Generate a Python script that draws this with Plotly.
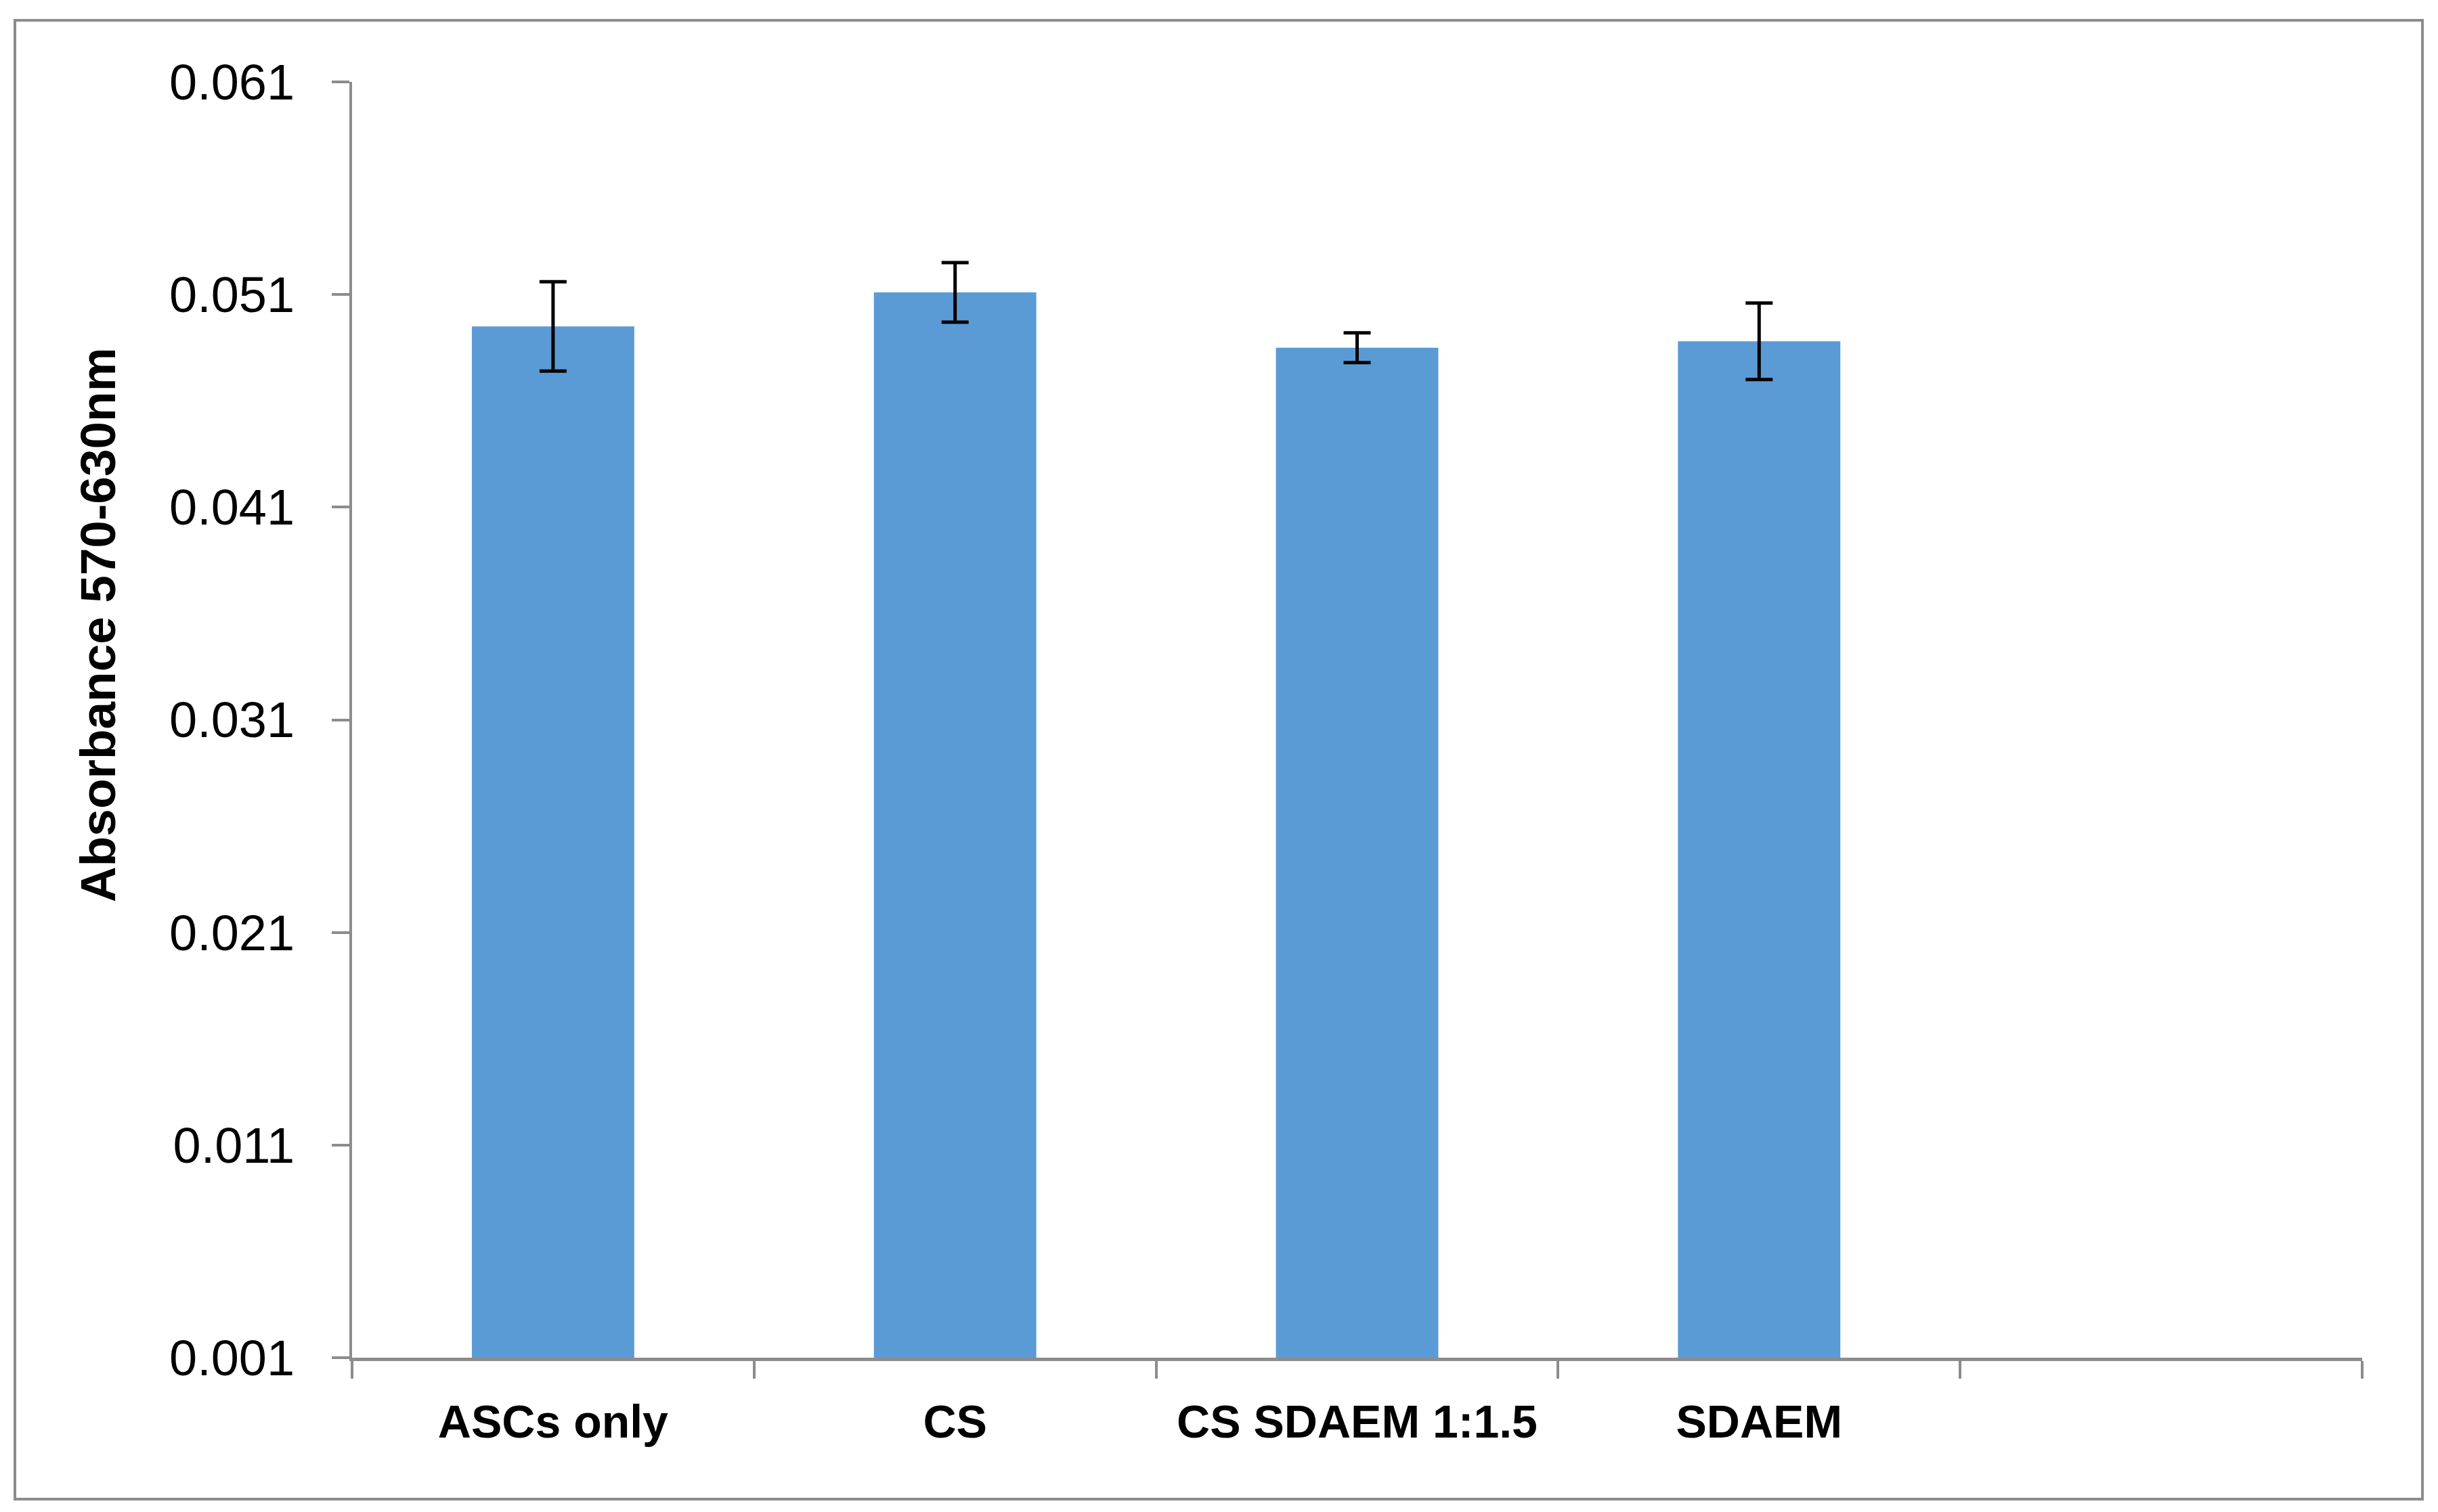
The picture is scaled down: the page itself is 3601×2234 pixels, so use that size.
import plotly.graph_objects as go

# ---- data ----
categories = ["ASCs only", "CS", "CS SDAEM 1:1.5", "SDAEM"]
empty_slot = [" "]  # fifth, empty category slot on the x axis
absorbance = [0.0495, 0.0511, 0.0485, 0.0488]
error = [0.0021, 0.0014, 0.0007, 0.0018]
y_ticks = [0.001, 0.011, 0.021, 0.031, 0.041, 0.051, 0.061]
y_ticklabels = ["0.001", "0.011", "0.021", "0.031", "0.041", "0.051", "0.061"]
y_title = "Absorbance 570-630nm"

W, H = 3601, 2234
L, R, T, B = 512, 120, 113, 236
GRAY = "#8C8C8C"
FONT = "Liberation Sans"

fig = go.Figure()
fig.add_trace(go.Bar(
    x=categories,
    y=absorbance,
    marker=dict(color="#5B9BD5", line=dict(width=0)),
    error_y=dict(type="data", array=error, visible=True,
                 color="black", thickness=5, width=20),
    showlegend=False,
))

fig.update_layout(
    width=W, height=H, autosize=False,
    margin=dict(l=L, r=R, t=T, b=B, pad=0),
    paper_bgcolor="white", plot_bgcolor="white",
    bargap=0.596,
    xaxis=dict(
        type="category",
        categoryorder="array",
        categoryarray=categories + empty_slot,
        range=[-0.5, 4.5],
        tickson="boundaries",
        ticks="outside", ticklen=26, tickwidth=4, tickcolor=GRAY,
        showline=True, linecolor=GRAY, linewidth=5,
        showgrid=False, zeroline=False,
        tickfont=dict(family=FONT, size=68, color="black", weight="bold"),
        ticklabelstandoff=31,
    ),
    yaxis=dict(
        range=[0.001, 0.061],
        tickmode="array", tickvals=y_ticks, ticktext=y_ticklabels,
        ticks="outside", ticklen=26, tickwidth=4, tickcolor=GRAY,
        showline=True, linecolor=GRAY, linewidth=4,
        showgrid=False, zeroline=False,
        tickfont=dict(family=FONT, size=74, color="black"),
        ticklabelstandoff=40,
    ),
    annotations=[dict(
        text=y_title, textangle=-90,
        xref="paper", yref="paper",
        x=(137 - L) / (W - L - R), y=1 - (915 - T) / (H - T - B),
        xanchor="center", yanchor="middle", showarrow=False,
        font=dict(family=FONT, size=73, color="black", weight="bold"),
    )],
    shapes=[dict(
        type="rect", xref="paper", yref="paper",
        x0=(14 - L) / (W - L - R), x1=(3570 - L) / (W - L - R),
        y0=1 - (2207 - T) / (H - T - B), y1=1 - (22 - T) / (H - T - B),
        line=dict(color=GRAY, width=4), fillcolor="rgba(0,0,0,0)",
        layer="below",
    )],
)

fig.write_html("out.html")
